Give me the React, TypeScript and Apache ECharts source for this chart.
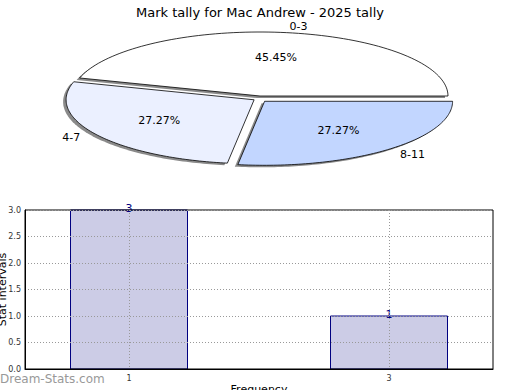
import React, { useEffect, useRef } from "react";
import * as echarts from "echarts";

const chartTitle = "Mark tally for Mac Andrew - 2025 tally";
const pieLabels = ["0-3", "4-7", "8-11"];
const pieValues = [5, 3, 3];
const pieColors = ["#ffffff", "#ebf0ff", "#c2d6ff"];
const pieExplode = [0, 7, 7];

const barX = [1, 3];
const barY = [3, 1];
const xTickValues = [1, 3];
const xAxisName = "Frequency";
const yAxisName = "Stat intervals";
const watermark = "Dream-Stats.com";

const FONT = "DejaVu Sans";

export default function App() {
  const ref = useRef<HTMLDivElement>(null);
  useEffect(() => {
    if (!ref.current) return;
    const chart = echarts.init(ref.current, undefined, { renderer: "svg" });
    const total = pieValues.reduce((a, b) => a + b, 0);
    const CX = 260, CY = 96, RX = 188, RY = 64;

    const pieRender = (params: any, api: any) => {
      const i = params.dataIndex;
      let start = 0;
      for (let j = 0; j < i; j++) start += pieValues[j];
      const v = api.value(0);
      const a0 = (start / total) * Math.PI * 2;
      const a1 = ((start + v) / total) * Math.PI * 2;
      const mid = (a0 + a1) / 2;
      const ex = pieExplode[i];
      const ox = CX + Math.cos(mid) * ex;
      const oy = CY - Math.sin(mid) * ex;
      const pts: number[][] = [[ox, oy]];
      const n = 90;
      for (let k = 0; k <= n; k++) {
        const a = a0 + ((a1 - a0) * k) / n;
        pts.push([ox + RX * Math.cos(a), oy - RY * Math.sin(a)]);
      }
      const shadow = pts.map((p) => [p[0] - 3, p[1] + 2]);
      const lx = ox + 1.1 * RX * Math.cos(mid);
      const ly = oy - 1.1 * RY * Math.sin(mid);
      const px = ox + 0.6 * RX * Math.cos(mid);
      const py = oy - 0.6 * RY * Math.sin(mid);
      const pct = ((v / total) * 100).toFixed(2) + "%";
      return {
        type: "group",
        children: [
          { type: "polygon", shape: { points: shadow }, style: { fill: "#8a8a8a", stroke: "none" } },
          { type: "polygon", shape: { points: pts }, style: { fill: pieColors[i], stroke: "#000", lineWidth: 0.8 } },
          {
            type: "text", x: lx, y: ly,
            style: { text: pieLabels[i], fill: "#000", fontSize: 11, fontFamily: FONT, align: Math.cos(mid) > 0 ? "left" : "right", verticalAlign: "middle" },
          },
          {
            type: "text", x: px, y: py,
            style: { text: pct, fill: "#000", fontSize: 11, fontFamily: FONT, align: "center", verticalAlign: "middle" },
          },
        ],
      };
    };

    const barRender = (params: any, api: any) => {
      const x = api.value(0);
      const y = api.value(1);
      const p0 = api.coord([x - 0.45, y]);
      const p1 = api.coord([x + 0.45, 0]);
      return {
        type: "group",
        children: [
          {
            type: "rect",
            shape: { x: p0[0], y: p0[1], width: p1[0] - p0[0], height: p1[1] - p0[1] },
            style: { fill: "#ccccE6", stroke: "#000080", lineWidth: 1 },
          },
          {
            type: "text", x: (p0[0] + p1[0]) / 2, y: p0[1] + 4,
            style: { text: String(y), fill: "#000080", fontSize: 11, fontFamily: FONT, align: "center", verticalAlign: "bottom" },
          },
        ],
      };
    };

    chart.setOption({
      animation: false,
      textStyle: { fontFamily: FONT },
      title: {
        text: chartTitle, left: "center", top: 1,
        textStyle: { fontSize: 13, fontWeight: "normal", color: "#000", fontFamily: FONT },
      },
      grid: {
        left: 25, top: 210, right: 27, bottom: 21,
        containLabel: false, outerBoundsMode: "none",
        show: true, borderColor: "#000", borderWidth: 1, backgroundColor: "transparent",
      },
      xAxis: {
        type: "value", min: 0.2, max: 3.8,
        name: xAxisName, nameLocation: "middle", nameGap: 15, nameMoveOverlap: false,
        nameTextStyle: { fontSize: 11, color: "#000", fontFamily: FONT, verticalAlign: "top" },
        axisLine: { show: true, lineStyle: { color: "#000" } },
        axisTick: { show: false, customValues: xTickValues },
        axisLabel: { customValues: xTickValues, fontSize: 8, color: "#333", margin: 5 },
        splitLine: { show: true, lineStyle: { type: [1, 2], color: "#999" } },
      },
      yAxis: {
        type: "value", min: 0, max: 3, interval: 0.5,
        name: yAxisName, nameLocation: "middle", nameGap: 23, nameMoveOverlap: false,
        nameTextStyle: { fontSize: 11, color: "#000", fontFamily: FONT, verticalAlign: "middle" },
        axisLine: { show: true, lineStyle: { color: "#000" } },
        axisTick: { show: false },
        axisLabel: { fontSize: 8, color: "#333", margin: 4, formatter: (v: number) => v.toFixed(1) },
        splitLine: { show: true, lineStyle: { type: [1, 2], color: "#999" } },
      },
      graphic: [
        {
          type: "text", left: 0, top: 373,
          style: { text: watermark, fill: "#999", fontSize: 12, fontFamily: FONT },
        },
      ],
      series: [
        {
          type: "custom", coordinateSystem: "none",
          renderItem: pieRender,
          data: pieValues.map((v) => [v]),
          silent: true,
        },
        {
          type: "custom", coordinateSystem: "cartesian2d", z: -1,
          renderItem: barRender,
          encode: { x: 0, y: 1 },
          data: barX.map((x, i) => [x, barY[i]]),
          silent: true,
        },
      ],
    });
    return () => chart.dispose();
  }, []);
  return <div ref={ref} style={{ position: "absolute", left: 0, top: 0, width: 520, height: 390 }} />;
}
